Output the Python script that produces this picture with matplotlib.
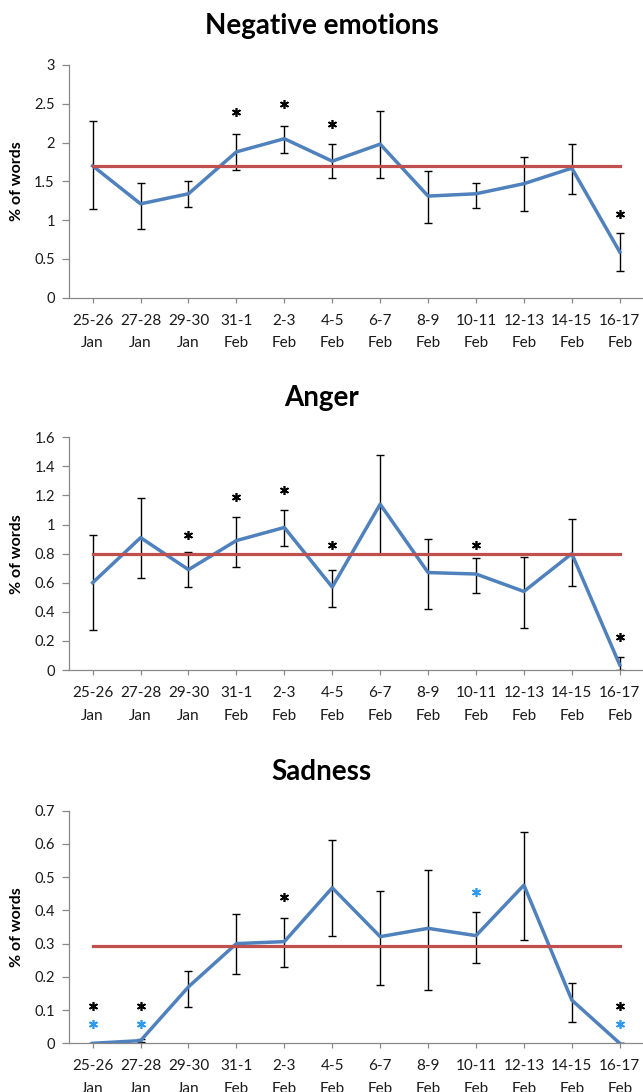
import matplotlib
matplotlib.use("Agg")
import matplotlib.pyplot as plt
import numpy as np

plt.rcParams['font.family'] = ['Lato', 'DejaVu Sans']

periods = ["25-26\nJan", "27-28\nJan", "29-30\nJan", "31-1\nFeb", "2-3\nFeb", "4-5\nFeb",
           "6-7\nFeb", "8-9\nFeb", "10-11\nFeb", "12-13\nFeb", "14-15\nFeb", "16-17\nFeb"]

# negative emotions
neg_mean = [1.70, 1.21, 1.34, 1.88, 2.05, 1.76, 1.98, 1.31, 1.34, 1.47, 1.67, 0.59]
neg_hi = [2.28, 1.48, 1.50, 2.11, 2.21, 1.98, 2.41, 1.63, 1.48, 1.81, 1.98, 0.83]
neg_lo = [1.14, 0.89, 1.17, 1.64, 1.87, 1.54, 1.54, 0.96, 1.16, 1.12, 1.34, 0.35]
neg_base = 1.70
neg_stars = {3: 2.39, 4: 2.50, 5: 2.24, 11: 1.08}

# anger
ang_mean = [0.60, 0.91, 0.69, 0.89, 0.98, 0.57, 1.14, 0.67, 0.66, 0.54, 0.80, 0.035]
ang_hi = [0.93, 1.18, 0.81, 1.05, 1.10, 0.69, 1.48, 0.90, 0.77, 0.78, 1.04, 0.09]
ang_lo = [0.275, 0.63, 0.57, 0.71, 0.85, 0.435, 0.80, 0.42, 0.53, 0.29, 0.58, 0.0]
ang_base = 0.795
ang_stars = {2: 0.93, 3: 1.19, 4: 1.24, 5: 0.86, 8: 0.86, 11: 0.23}

# sadness
sad_mean = [0.0, 0.008, 0.17, 0.30, 0.306, 0.468, 0.321, 0.346, 0.324, 0.476, 0.13, 0.0]
sad_hi = [0.0, 0.012, 0.219, 0.388, 0.376, 0.612, 0.458, 0.523, 0.395, 0.635, 0.18, 0.0]
sad_lo = [0.0, 0.004, 0.11, 0.208, 0.231, 0.323, 0.176, 0.16, 0.242, 0.311, 0.065, 0.0]
sad_base = 0.292
sad_stars = {0: 0.112, 1: 0.112, 4: 0.44, 11: 0.112}
sad_blue_stars = {0: 0.057, 1: 0.057, 8: 0.456, 11: 0.057}

BLUE = "#4F81BD"
RED = "#C0504D"
STAR_BLUE = "#2E9BF0"
W, H = 643, 1092
LEFT, RIGHT = 68.7, 643.7

fig = plt.figure(figsize=(W / 100, H / 100), dpi=100)


def add_stars(ax, stars, color):
    idx = list(stars.keys())
    ax.plot(idx, [stars[i] for i in idx], ls='none', marker=(6, 2, 0), ms=6.5, mew=1.2,
            color=color, zorder=5, clip_on=False)


def panel(top_px, bottom_px, title, title_px, mean, hi, lo, base, ymax, step, stars,
          blue_stars=None):
    ax = fig.add_axes([LEFT / W, 1 - bottom_px / H, (RIGHT - LEFT) / W, (bottom_px - top_px) / H])
    x = np.arange(len(periods))
    mean = np.array(mean)
    err = [mean - np.array(lo), np.array(hi) - mean]
    ax.errorbar(x, mean, yerr=err, fmt='none', ecolor='black', elinewidth=1.0,
                capsize=3.0, capthick=1.0, zorder=2)
    ax.plot(x, mean, color=BLUE, lw=2.5, zorder=3)
    ax.plot([x[0], x[-1]], [base, base], color=RED, lw=2.3, zorder=4)
    add_stars(ax, stars, 'black')
    if blue_stars:
        add_stars(ax, blue_stars, STAR_BLUE)
    ax.set_xlim(-0.5, 11.5)
    ax.set_ylim(0, ymax)
    yt = np.arange(0, ymax + step / 2, step)
    ax.set_yticks(yt)
    ax.set_yticklabels([f"{v:g}" for v in yt])
    ax.set_xticks(x)
    ax.set_xticklabels(periods, linespacing=1.8)
    for s in ['top', 'right']:
        ax.spines[s].set_visible(False)
    for s in ['left', 'bottom']:
        ax.spines[s].set_color('#888888')
        ax.spines[s].set_linewidth(0.9)
    ax.tick_params(axis='both', colors='#888888', labelcolor='#1a1a1a', length=5, width=0.9)
    ax.tick_params(axis='y', labelsize=10.5, pad=5)
    ax.tick_params(axis='x', labelsize=11, length=3.5, pad=8)
    ax.set_ylabel("% of words", fontsize=11.5, fontweight='bold')
    ax.yaxis.set_label_coords(-0.078, 0.5)
    fig.text(0.5, 1 - title_px / H, title, ha='center', va='center', fontsize=20,
             fontweight='bold')
    return ax


panel(65, 297.7, "Negative emotions", 26, neg_mean, neg_hi, neg_lo, neg_base, 3, 0.5, neg_stars)
panel(437.3, 670, "Anger", 398, ang_mean, ang_hi, ang_lo, ang_base, 1.6, 0.2, ang_stars)
panel(810.7, 1043.3, "Sadness", 772, sad_mean, sad_hi, sad_lo, sad_base, 0.7, 0.1, sad_stars,
      sad_blue_stars)

fig.savefig("out.png", dpi=100)
